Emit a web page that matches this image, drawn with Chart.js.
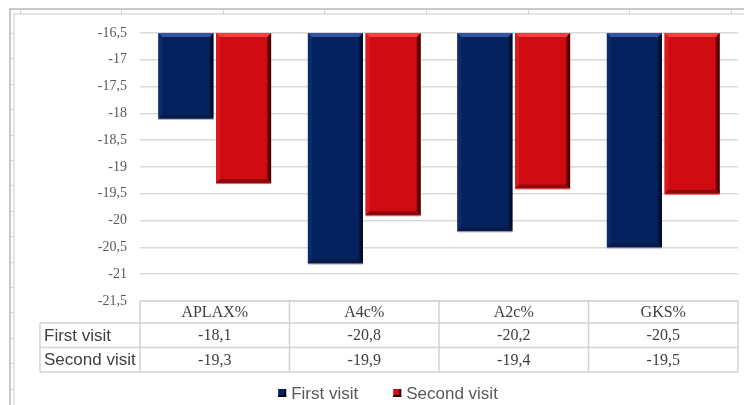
<!DOCTYPE html>
<html>
<head>
<meta charset="utf-8">
<script src="https://cdn.jsdelivr.net/npm/chart.js@4/dist/chart.umd.min.js"></script>
<style>
  html, body { margin: 0; padding: 0; background: #ffffff; }
  #wrap { width: 744px; height: 405px; }
</style>
</head>
<body>
<div id="wrap"><canvas id="chart" width="744" height="405"></canvas></div>
<script>
// Strain values per view, two visits
const categories = ['APLAX%', 'A4c%', 'A2c%', 'GKS%'];
const seriesNames = ['First visit', 'Second visit'];
const firstVisit = [-18.1, -20.8, -20.2, -20.5];
const secondVisit = [-19.3, -19.9, -19.4, -19.5];

// Value axis range and step
const yMin = -21.5;
const yMax = -16.5;
const yStep = 0.5;

const fmt = v => String(Math.round(v * 10) / 10).replace('.', ',');

const palette = [
  { face: '#06225e', top: '#3355a0', left: '#0c2b6c', right0: '#04184a', right1: '#000719', bottom: '#0b1a44', edge: 'rgba(130,148,190,0.85)' },
  { face: '#d00b12', top: '#f2403f', left: '#da1a1f', right0: '#8c0207', right1: '#2e0000', bottom: '#8f0a0c', edge: 'rgba(235,70,70,0.9)' }
];

// Spreadsheet-style frame behind the chart
const framePlugin = {
  id: 'frame',
  beforeDraw(chart) {
    const ctx = chart.ctx;
    ctx.save();
    ctx.fillStyle = '#ffffff';
    ctx.fillRect(0, 0, chart.width, chart.height);
    ctx.strokeStyle = '#c9c9c9';
    ctx.lineWidth = 2;
    ctx.beginPath();
    ctx.moveTo(10, chart.height); ctx.lineTo(10, 9); ctx.lineTo(chart.width, 9);
    ctx.stroke();
    ctx.strokeStyle = '#dadada';
    ctx.lineWidth = 1.5;
    ctx.beginPath();
    ctx.moveTo(14, chart.height); ctx.lineTo(14, 14); ctx.lineTo(chart.width, 14);
    ctx.stroke();
    ctx.lineWidth = 1;
    ctx.strokeStyle = '#d4d4d4';
    ctx.beginPath();
    for (let x = 19.5; x < chart.width; x += 101.6) {
      const px = Math.round(x) + 0.5;
      ctx.moveTo(px, 10); ctx.lineTo(px, 14);
    }
    for (let y = 33; y < chart.height; y += 25.4) {
      const py = Math.round(y) + 0.5;
      ctx.moveTo(11, py); ctx.lineTo(14, py);
    }
    ctx.stroke();
    ctx.restore();
  }
};

// Bevelled faces on each bar
const bevelPlugin = {
  id: 'bevel',
  afterDatasetsDraw(chart) {
    const ctx = chart.ctx;
    const area = chart.chartArea;
    ctx.save();
    ctx.beginPath();
    ctx.rect(area.left, area.top, area.right - area.left, area.bottom - area.top + 2);
    ctx.clip();
    chart.data.datasets.forEach((ds, di) => {
      const meta = chart.getDatasetMeta(di);
      const c = palette[di];
      meta.data.forEach(bar => {
        const p = bar.getProps(['x', 'y', 'base', 'width'], true);
        const l = p.x - p.width / 2, r = p.x + p.width / 2;
        const t = Math.max(Math.min(p.y, p.base), area.top);
        const b = Math.min(Math.max(p.y, p.base), area.bottom);
        const bv = 4;
        const poly = (pts, fill) => {
          ctx.beginPath();
          ctx.moveTo(pts[0][0], pts[0][1]);
          for (let i = 1; i < pts.length; i++) ctx.lineTo(pts[i][0], pts[i][1]);
          ctx.closePath();
          ctx.fillStyle = fill;
          ctx.fill();
        };
        poly([[l, t], [l + bv, t + bv], [l + bv, b - bv], [l, b]], c.left);
        const g = ctx.createLinearGradient(r - bv, 0, r, 0);
        g.addColorStop(0, c.right0);
        g.addColorStop(1, c.right1);
        poly([[r, t], [r - bv, t + bv], [r - bv, b - bv], [r, b]], g);
        poly([[l, b], [r, b], [r - bv, b - bv], [l + bv, b - bv]], c.bottom);
        poly([[l, t], [r, t], [r - bv, t + bv], [l + bv, t + bv]], c.top);
        ctx.fillStyle = c.edge;
        ctx.fillRect(l, b, r - l, 1);
      });
    });
    ctx.restore();
  }
};

// Data table under the plot and the legend
const tablePlugin = {
  id: 'dataTable',
  afterDraw(chart) {
    const ctx = chart.ctx;
    const area = chart.chartArea;
    const xs = chart.scales.x;
    const colW = (area.right - area.left) / categories.length;
    const rowLeft = 40;
    const yHead = area.top + (area.bottom - area.top);
    const headH = 22;
    const rowH = 24.5;
    const rows = [firstVisit, secondVisit];
    const yRow0 = yHead + headH;
    const yEnd = yRow0 + rowH * rows.length;

    ctx.save();
    ctx.strokeStyle = '#d3d3d3';
    ctx.lineWidth = 1.5;
    ctx.beginPath();
    ctx.moveTo(area.left, yHead); ctx.lineTo(area.right, yHead);
    for (let i = 0; i <= rows.length; i++) {
      const y = yRow0 + rowH * i;
      ctx.moveTo(rowLeft, y); ctx.lineTo(area.right, y);
    }
    ctx.moveTo(rowLeft, yRow0); ctx.lineTo(rowLeft, yEnd);
    for (let i = 0; i <= categories.length; i++) {
      const x = area.left + colW * i;
      ctx.moveTo(x, yHead); ctx.lineTo(x, yEnd);
    }
    ctx.stroke();

    ctx.fillStyle = '#404040';
    ctx.textBaseline = 'middle';
    ctx.textAlign = 'center';
    ctx.font = '16px "Liberation Serif", "Times New Roman", serif';
    categories.forEach((cat, i) => {
      const cx = xs.getPixelForValue(i);
      ctx.fillText(cat, cx, yHead + headH / 2 + 1);
      rows.forEach((vals, r) => {
        ctx.fillText(fmt(vals[i]), cx, yRow0 + rowH * r + rowH / 2 + 1);
      });
    });
    ctx.textAlign = 'left';
    ctx.font = '17px "Liberation Sans", Arial, sans-serif';
    seriesNames.forEach((name, r) => {
      ctx.fillText(name, rowLeft + 4, yRow0 + rowH * r + rowH / 2 + 1);
    });

    // legend
    ctx.font = '17px "Liberation Sans", Arial, sans-serif';
    ctx.fillStyle = '#595959';
    const box = 8, gapText = 5, gapItem = 35;
    const widths = seriesNames.map(n => box + gapText + ctx.measureText(n).width);
    const total = widths.reduce((a, b) => a + b, 0) + gapItem * (widths.length - 1);
    let lx = 388 - total / 2;
    const ly = 393;
    seriesNames.forEach((name, i) => {
      const c = palette[i];
      ctx.fillStyle = c.face;
      ctx.fillRect(lx, ly - 4, box, box);
      ctx.fillStyle = c.right1;
      ctx.fillRect(lx + box - 2, ly - 4, 2, box);
      ctx.fillRect(lx, ly + 2, box, 2);
      ctx.fillStyle = '#595959';
      ctx.fillText(name, lx + box + gapText, ly + 1);
      lx += widths[i] + gapItem;
    });
    ctx.restore();
  }
};

new Chart(document.getElementById('chart'), {
  type: 'bar',
  data: {
    labels: categories,
    datasets: [
      { label: seriesNames[0], data: firstVisit, backgroundColor: palette[0].face },
      { label: seriesNames[1], data: secondVisit, backgroundColor: palette[1].face }
    ]
  },
  options: {
    responsive: false,
    devicePixelRatio: 1,
    animation: false,
    categoryPercentage: 0.772,
    barPercentage: 0.953,
    layout: { padding: { left: 0, top: 33, right: 6, bottom: 104 } },
    plugins: {
      legend: { display: false },
      tooltip: { enabled: false }
    },
    scales: {
      x: { display: false },
      y: {
        min: yMin,
        max: yMax,
        border: { display: false },
        grid: { color: '#d9d9d9', lineWidth: 1.5, drawTicks: false },
        ticks: {
          stepSize: yStep,
          padding: 13,
          color: '#595959',
          font: { family: '"Liberation Serif", "Times New Roman", serif', size: 14 },
          callback: v => fmt(v)
        },
        afterFit(scale) { scale.width = 140; }
      }
    }
  },
  plugins: [framePlugin, bevelPlugin, tablePlugin]
});
</script>
</body>
</html>
